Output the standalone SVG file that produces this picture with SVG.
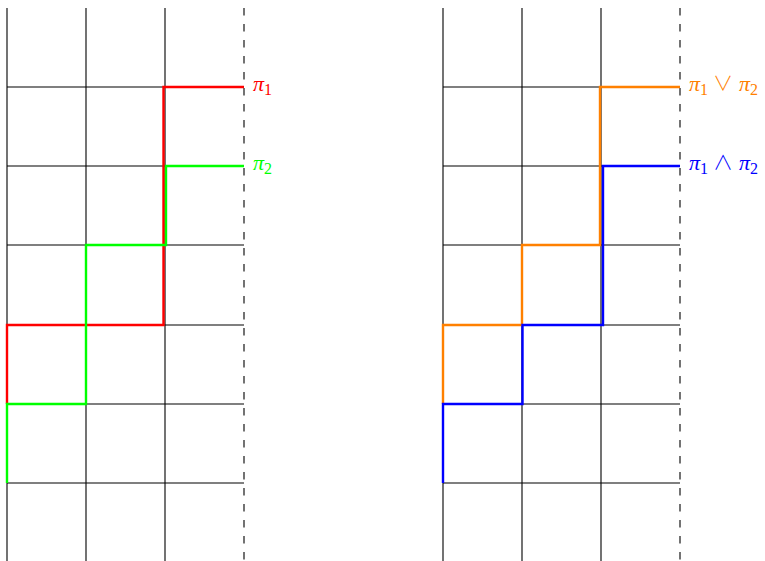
<svg xmlns="http://www.w3.org/2000/svg" width="765" height="561" viewBox="0 0 765 561">
<style>
.g{stroke:#000;stroke-width:1.1;fill:none}
.d{stroke:#000;stroke-width:1.1;fill:none;stroke-dasharray:7.5 8.5}
.p{fill:none;stroke-width:2.4;stroke-linejoin:miter}
.t{font-family:"Liberation Serif","DejaVu Serif",serif;font-size:22px}
.pi{font-style:italic}
.s{font-size:16px}
.o{font-family:"Noto Sans CJK JP","DejaVu Sans",sans-serif;font-weight:300;font-size:20px}
</style>
<rect width="765" height="561" fill="#fff"/>
<g id="left-grid">
<path class="g" d="M7,8V561M86,8V561M165,8V561"/>
<path class="d" d="M244,8V561"/>
<path class="g" d="M7,87H244M7,166H244M7,245H244M7,325H244M7,404H244M7,483H244"/>
</g>
<g id="right-grid">
<path class="g" d="M443,8V561M522,8V561M601,8V561"/>
<path class="d" d="M680,8V561"/>
<path class="g" d="M443,87H680M443,166H680M443,245H680M443,325H680M443,404H680M443,483H680"/>
</g>
<g id="connectors">
<path id="pi1" class="p" stroke="#ff0000" d="M7,404V325H163.5V87H244"/>
<path id="pi2" class="p" stroke="#00ff00" d="M7,483V404H86V245H166V166H244"/>
<path id="join" class="p" stroke="#ff8000" d="M443,404V325H522V245H600V87H680"/>
<path id="meet" class="p" stroke="#0000ff" d="M443,483V404H522.5V325H603V166H680"/>
</g>
<g id="label-pi1"><text class="t" x="253" y="91" fill="#ff0000"><tspan class="pi">π</tspan><tspan class="s" dy="4">1</tspan></text></g>
<g id="label-pi2"><text class="t" x="253" y="170" fill="#00ff00"><tspan class="pi">π</tspan><tspan class="s" dy="4">2</tspan></text></g>
<g id="label-join"><text class="t" x="689" y="91" fill="#ff8000"><tspan class="pi">π</tspan><tspan class="s" dy="4">1</tspan><tspan class="o" dy="-4" dx="5">∨</tspan><tspan class="pi" dx="6">π</tspan><tspan class="s" dy="4">2</tspan></text></g>
<g id="label-meet"><text class="t" x="689" y="170" fill="#0000ff"><tspan class="pi">π</tspan><tspan class="s" dy="4">1</tspan><tspan class="o" dy="-4" dx="5">∧</tspan><tspan class="pi" dx="6">π</tspan><tspan class="s" dy="4">2</tspan></text></g>
</svg>
